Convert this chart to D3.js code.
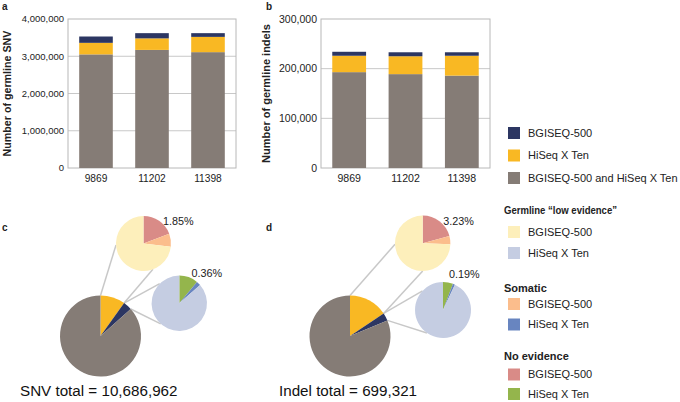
<!DOCTYPE html>
<html><head><meta charset="utf-8">
<script src="https://cdn.jsdelivr.net/npm/d3@7"></script>
<style>body{margin:0;background:#fff} svg{display:block;font-family:"Liberation Sans",Arial,sans-serif}</style>
</head><body><svg id="chart" width="680" height="402"></svg>
<script>
// ---------- DATA ----------
const samples = ["9869", "11202", "11398"];
const seriesNames = ["BGISEQ-500 and HiSeq X Ten", "HiSeq X Ten", "BGISEQ-500"];
const snvShared = [3050000, 3170000, 3110000];
const snvHiSeq  = [310000, 310000, 410000];
const snvBGI    = [170000, 140000, 100000];
const indelShared = [193000, 189000, 186000];
const indelHiSeq  = [33000, 36000, 40000];
const indelBGI    = [8000, 8000, 7000];
const snvTicks = [0, 1000000, 2000000, 3000000, 4000000];
const indelTicks = [0, 100000, 200000, 300000];

// pies: order clockwise from 12 o'clock
const mainPieNames = ["HiSeq X Ten", "BGISEQ-500", "BGISEQ-500 and HiSeq X Ten"];
const snvMainPct   = [9.9, 3.5, 86.6];
const indelMainPct = [15.6, 3.1, 81.3];
const subANames = ["No evidence BGISEQ-500", "Somatic BGISEQ-500", "Germline low evidence BGISEQ-500"];
const snvSubAPct   = [19.2, 7.7, 73.1];
const indelSubAPct = [20.7, 4.9, 74.4];
const subBNames = ["No evidence HiSeq X Ten", "Somatic HiSeq X Ten", "Germline low evidence HiSeq X Ten"];
const snvSubBPct   = [11.0, 2.5, 86.5];
const indelSubBPct = [5.8, 1.2, 93.0];
const snvSubALabel = "1.85%", snvSubBLabel = "0.36%";
const indelSubALabel = "3.23%", indelSubBLabel = "0.19%";
const snvTotal = "SNV total = 10,686,962";
const indelTotal = "Indel total = 699,321";

// ---------- STYLE ----------
const C = {
  gray: "#857c76", yellow: "#f9b823", navy: "#2c3662",
  lyellow: "#fdefbb", lblue: "#c5cde2", peach: "#fbbd8c",
  mblue: "#6885c0", rose: "#d98b87", green: "#94b54c"
};
const svg = d3.select("#chart");
const txt = "#222";

// ---------- BAR CHARTS ----------
function barChart(o) {
  const { left, right, top, bottom, shared, hiseq, bgi, ticks } = o;
  const g = svg.append("g");
  const x = d3.scaleBand().domain(samples).range([left, right]).paddingInner(0.4).paddingOuter(0.2);
  const y = d3.scaleLinear().domain([0, ticks[ticks.length - 1]]).range([bottom, top]);
  g.selectAll(null).data(ticks.slice(1, -1)).enter().append("line")
    .attr("x1", left).attr("x2", right).attr("y1", d => y(d)).attr("y2", d => y(d))
    .attr("stroke", "#c8c8c8").attr("stroke-width", 1);
  g.append("rect").attr("x", left).attr("y", top).attr("width", right - left).attr("height", bottom - top)
    .attr("fill", "none").attr("stroke", "#b8b8b8").attr("stroke-width", 1);
  const rows = samples.map((s, i) => ({ s, shared: shared[i], hiseq: hiseq[i], bgi: bgi[i] }));
  const stack = d3.stack().keys(["shared", "hiseq", "bgi"])(rows);
  const cols = [C.gray, C.yellow, C.navy];
  stack.forEach((layer, li) => {
    g.selectAll(null).data(layer).enter().append("rect")
      .attr("x", d => x(d.data.s)).attr("width", x.bandwidth())
      .attr("y", d => y(d[1])).attr("height", d => y(d[0]) - y(d[1]))
      .attr("fill", cols[li]);
  });
  g.selectAll(null).data(ticks).enter().append("text")
    .attr("x", left - 4).attr("y", d => y(d)).attr("dy", "0.35em")
    .attr("text-anchor", "end").attr("font-size", o.tickSize).attr("fill", txt)
    .text(d3.format(","));
  g.selectAll(null).data(samples).enter().append("text")
    .attr("x", d => x(d) + x.bandwidth() / 2).attr("y", bottom + 10)
    .attr("dy", "0.35em").attr("text-anchor", "middle").attr("font-size", o.xSize).attr("fill", txt)
    .text(d => d);
  g.append("text").attr("transform", `translate(${o.titleX},${(top + bottom) / 2}) rotate(-90)`)
    .attr("text-anchor", "middle").attr("dy", "0.35em").attr("font-size", o.titleSize)
    .attr("font-weight", "bold").attr("fill", txt).text(o.title);
  g.append("text").attr("x", o.letterX).attr("y", 10).attr("font-size", 10).attr("font-weight", "bold")
    .attr("fill", txt).text(o.letter);
}
barChart({ left: 68, right: 236, top: 19, bottom: 168, shared: snvShared, hiseq: snvHiSeq, bgi: snvBGI,
  ticks: snvTicks, title: "Number of germline SNV", titleX: 7.5, letter: "a", letterX: 2,
  tickSize: 9.5, xSize: 10.2, titleSize: 10.7 });
barChart({ left: 321, right: 490, top: 19, bottom: 168, shared: indelShared, hiseq: indelHiSeq, bgi: indelBGI,
  ticks: indelTicks, title: "Number of germline indels", titleX: 266, letter: "b", letterX: 266,
  tickSize: 10.5, xSize: 10.6, titleSize: 11 });

// ---------- LEGEND ----------
function legItem(y, color, label) {
  svg.append("rect").attr("x", 508).attr("y", y - 6).attr("width", 12).attr("height", 12).attr("fill", color);
  svg.append("text").attr("x", 528).attr("y", y).attr("dy", "0.35em").attr("font-size", 11)
    .attr("fill", txt).text(label);
}
function legHead(y, label, len) {
  const t = svg.append("text").attr("x", 504).attr("y", y).attr("dy", "0.35em").attr("font-size", 11)
    .attr("font-weight", "bold").attr("fill", txt).text(label);
  if (len) t.attr("textLength", len).attr("lengthAdjust", "spacingAndGlyphs");
}
legItem(133, C.navy, seriesNames[2]);
legItem(155.5, C.yellow, seriesNames[1]);
legItem(178, C.gray, seriesNames[0]);
legHead(210, "Germline \u201clow evidence\u201d", 113);
legItem(232, C.lyellow, "BGISEQ-500");
legItem(253, C.lblue, "HiSeq X Ten");
legHead(288, "Somatic");
legItem(304, C.peach, "BGISEQ-500");
legItem(324.5, C.mblue, "HiSeq X Ten");
legHead(356, "No evidence");
legItem(374.5, C.rose, "BGISEQ-500");
legItem(394, C.green, "HiSeq X Ten");

// ---------- PIES ----------
const pie = d3.pie().sort(null).value(d => d);
function pt(cx, cy, r, a) { return [cx + r * Math.sin(a), cy - r * Math.cos(a)]; }
const deg = Math.PI / 180;
function drawPie(g, cx, cy, r, values, colors) {
  const arcs = pie(values);
  const arc = d3.arc().innerRadius(0).outerRadius(r);
  g.selectAll(null).data(arcs).enter().append("path")
    .attr("transform", `translate(${cx},${cy})`).attr("d", arc)
    .attr("fill", (d, i) => colors[i]);
  return arcs;
}
function pieOfPie(o) {
  const g = svg.append("g");
  const mainArcs = pie(o.main);
  const a0 = mainArcs[0].startAngle, a1 = mainArcs[0].endAngle, a2 = mainArcs[1].endAngle;
  const lines = [
    [pt(o.cx, o.cy, o.r, a0), pt(o.ax, o.ay, o.ar, o.aEnd[0] * deg)],
    [pt(o.cx, o.cy, o.r, a1), pt(o.ax, o.ay, o.ar, o.aEnd[1] * deg)],
    [pt(o.cx, o.cy, o.r, a1), pt(o.bx, o.by, o.br, o.bEnd[0] * deg)],
    [pt(o.cx, o.cy, o.r, a2), pt(o.bx, o.by, o.br, o.bEnd[1] * deg)]
  ];
  g.selectAll(null).data(lines).enter().append("line")
    .attr("x1", d => d[0][0]).attr("y1", d => d[0][1]).attr("x2", d => d[1][0]).attr("y2", d => d[1][1])
    .attr("stroke", "#c8c8c8").attr("stroke-width", 1.5);
  drawPie(g, o.cx, o.cy, o.r, o.main, [C.yellow, C.navy, C.gray]);
  drawPie(g, o.ax, o.ay, o.ar, o.subA, [C.rose, C.peach, C.lyellow]);
  drawPie(g, o.bx, o.by, o.br, o.subB, [C.green, C.mblue, C.lblue]);
  g.append("text").attr("x", o.alx).attr("y", o.aly).attr("dy", "0.35em").attr("font-size", 10.8)
    .attr("fill", txt).text(o.aLabel);
  g.append("text").attr("x", o.blx).attr("y", o.bly).attr("dy", "0.35em").attr("font-size", 10.8)
    .attr("fill", txt).text(o.bLabel);
  g.append("text").attr("x", o.tx).attr("y", 391).attr("dy", "0.35em").attr("font-size", 15.2)
    .attr("fill", "#111").text(o.total);
  g.append("text").attr("x", o.lx).attr("y", 231).attr("font-size", 10).attr("font-weight", "bold")
    .attr("fill", txt).text(o.letter);
}
pieOfPie({
  cx: 100.5, cy: 336, r: 40.5, main: snvMainPct,
  ax: 143.5, ay: 243.5, ar: 27.5, subA: snvSubAPct, aEnd: [267, 160],
  bx: 179.3, by: 303.3, br: 27.7, subB: snvSubBPct, bEnd: [315, 222],
  aLabel: snvSubALabel, alx: 163, aly: 221, bLabel: snvSubBLabel, blx: 191.5, bly: 273,
  total: snvTotal, tx: 20, letter: "c", lx: 2
});
pieOfPie({
  cx: 350, cy: 336, r: 40.5, main: indelMainPct,
  ax: 422.7, ay: 243.3, ar: 27.7, subA: indelSubAPct, aEnd: [268, 180],
  bx: 443, by: 310, br: 28, subB: indelSubBPct, bEnd: [313, 215],
  aLabel: indelSubALabel, alx: 443.3, aly: 221, bLabel: indelSubBLabel, blx: 449, bly: 274,
  total: indelTotal, tx: 279, letter: "d", lx: 266
});
</script></body></html>
